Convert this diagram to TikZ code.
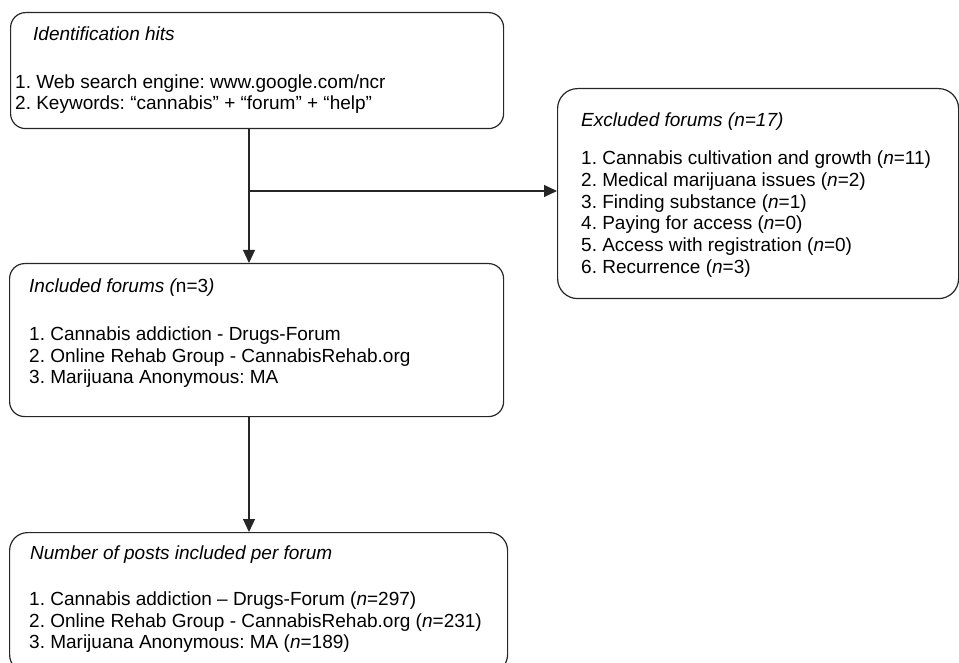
\documentclass[tikz,border=0pt]{standalone}
\usepackage{fontspec}
\setmainfont{Liberation Sans}
\usetikzlibrary{arrows.meta}
\frenchspacing
\tikzset{
  boxline/.style={draw=black!85, line width=1.2pt},
  flowbox/.style={boxline, rectangle, inner sep=0pt, anchor=north west},
  txt/.style={inner sep=0pt, anchor=base west, font=\fontsize{19}{21.5}\selectfont},
  conn/.style={boxline, -{Triangle[length=13pt,width=12pt]}},
}
\begin{document}
\begin{tikzpicture}[x=1pt,y=-1pt]
\useasboundingbox (0,0) rectangle (959,663);
% boxes
\node[flowbox, rounded corners=15pt, minimum width=493pt, minimum height=116pt] (b1) at (10,12) {};
\node[flowbox, rounded corners=20pt, minimum width=401pt, minimum height=210pt] (b2) at (557,88) {};
\node[flowbox, rounded corners=15pt, minimum width=494pt, minimum height=153pt] (b3) at (9,263) {};
\node[flowbox, rounded corners=18pt, minimum width=498pt, minimum height=140pt] (b4) at (9,532) {};
% box 1 text
\node[txt] (t1) at (33,41) {\itshape Identification hits};
\node[txt] (t1a) at (15,89) {1. Web search engine: www.google.com/ncr};
\node[txt] (t1b) at (15,110) {2. Keywords: “cannabis” + “forum” + “help”};
% box 2 text
\node[txt] (t2) at (581,127) {\itshape Excluded forums (n=17)};
\node[txt] (t2a) at (581,165) {1. Cannabis cultivation and growth (\textit{n}=11)};
\node[txt] (t2b) at (581,186.7) {2. Medical marijuana issues (\textit{n}=2)};
\node[txt] (t2c) at (581,208.3) {3. Finding substance (\textit{n}=1)};
\node[txt] (t2d) at (581,230) {4. Paying for access (\textit{n}=0)};
\node[txt] (t2e) at (581,251.7) {5. Access with registration (\textit{n}=0)};
\node[txt] (t2f) at (581,273.3) {6. Recurrence (\textit{n}=3)};
% box 3 text
\node[txt] (t3) at (29,292) {{\itshape Included forums (}n=3{\itshape )}};
\node[txt] (t3a) at (29,341) {1. Cannabis addiction - Drugs-Forum};
\node[txt] (t3b) at (29,362) {2. Online Rehab Group - CannabisRehab.org};
\node[txt] (t3c) at (29,383) {3. Marijuana Anonymous: MA};
% box 4 text
\node[txt] (t4) at (30,559) {\itshape Number of posts included per forum};
\node[txt] (t4a) at (29,605) {1. Cannabis addiction – Drugs-Forum (\textit{n}=297)};
\node[txt] (t4b) at (29,627) {2. Online Rehab Group - CannabisRehab.org (\textit{n}=231)};
\node[txt] (t4c) at (29,648) {3. Marijuana Anonymous: MA (\textit{n}=189)};
% connectors
\coordinate (s1) at (b1.south west -| 249,0);
\coordinate (e3) at (b3.north west -| 249,0);
\coordinate (br) at (249,191);
\coordinate (s3) at (b3.south west -| 249,0);
\coordinate (e4) at (b4.north west -| 249,0);
\draw[conn] (s1) -- (e3);
\draw[conn] (br) -- (br -| b2.west);
\draw[conn] (s3) -- (e4);
\end{tikzpicture}
\end{document}
